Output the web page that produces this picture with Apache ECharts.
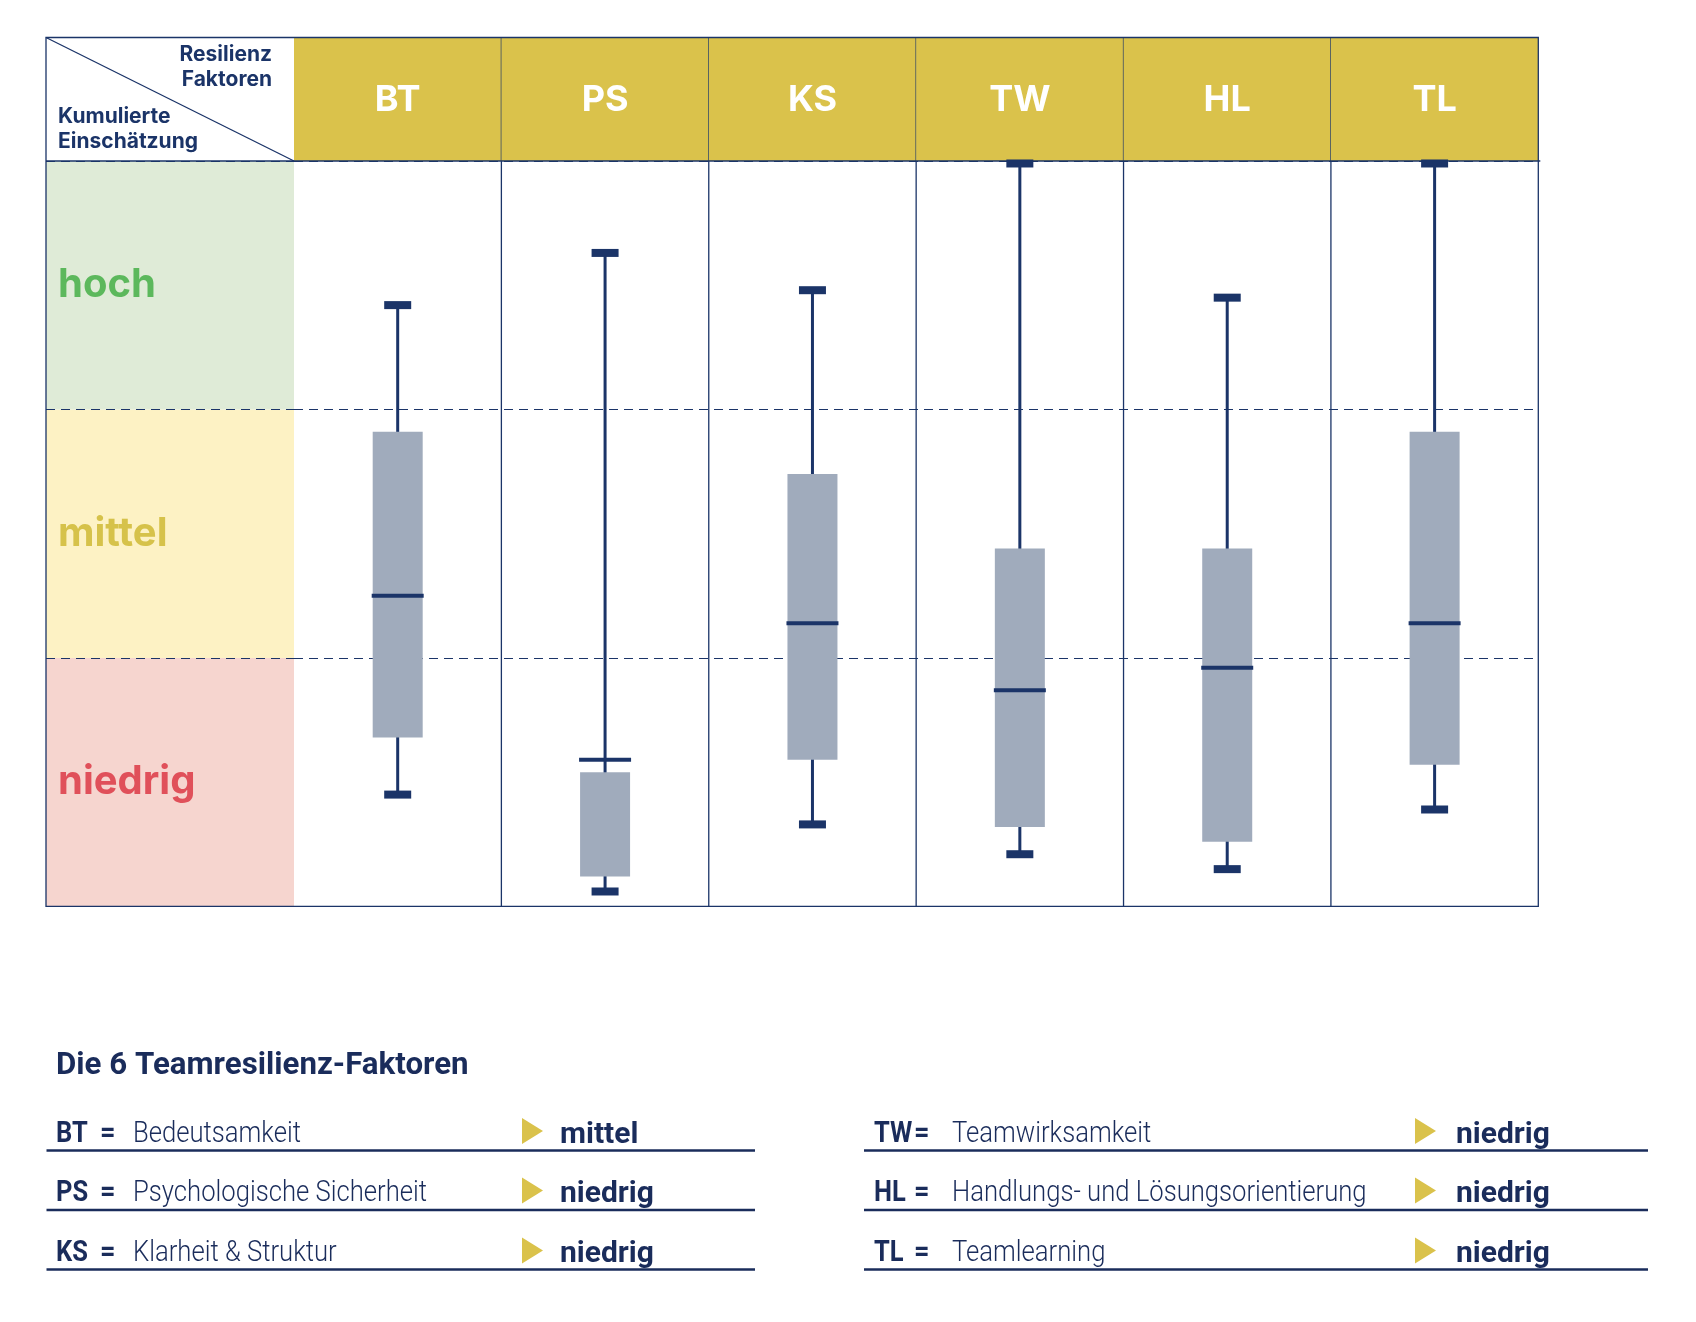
<!DOCTYPE html>
<html><head><meta charset="utf-8">
<script src="https://cdn.jsdelivr.net/npm/echarts@6/dist/echarts.min.js"></script>
<style>html,body{margin:0;padding:0;background:#fff}#c{width:1696px;height:1322px}</style>
</head><body><div id="c"></div>
<script>
// ---- data ----
const factors = ['BT', 'PS', 'KS', 'TW', 'HL', 'TL'];
const whiskerMin = [0.45, 0.06, 0.33, 0.21, 0.15, 0.39];
const q1 = [0.68, 0.12, 0.59, 0.32, 0.26, 0.57];
const median = [1.25, 0.59, 1.14, 0.87, 0.96, 1.14];
const q3 = [1.91, 0.54, 1.74, 1.44, 1.44, 1.91];
const whiskerMax = [2.42, 2.63, 2.48, 2.99, 2.45, 2.99];
const levels = ['niedrig', 'mittel', 'hoch'];
const levelTextColors = ['#e0505a', '#d6c24a', '#5cb85c'];
const levelFills = ['#f6d5cf', '#fdf2c4', '#dfebd7'];
const legendNames = ['Bedeutsamkeit', 'Psychologische Sicherheit', 'Klarheit & Struktur',
  'Teamwirksamkeit', 'Handlungs- und Lösungsorientierung', 'Teamlearning'];
const legendRatings = ['mittel', 'niedrig', 'niedrig', 'niedrig', 'niedrig', 'niedrig'];
const cornerTop = ['Resilienz', 'Faktoren'];
const cornerBottom = ['Kumulierte', 'Einschätzung'];
const legendTitle = 'Die 6 Teamresilienz-Faktoren';

// ---- style ----
const NAVY = '#1b3468';
const TXT = '#1a2c5b';
const YELLOW = '#dac24b';
const BOXC = '#a0abbc';
const T_L = 46, T_T = 37.5, T_R = 1538.3, T_B = 906.4, H_B = 161, COL0 = 294;

const chart = echarts.init(document.getElementById('c'), null, {renderer: 'canvas'});

function renderHeader(params, api) {
  const i = api.value(0);
  const p0 = api.coord([i, 0]);
  const p1 = api.coord([i, 1]);
  const w = api.size([1, 0])[0];
  const ch = [
    {type: 'rect', shape: {x: p0[0] - w / 2, y: p1[1], width: w, height: p0[1] - p1[1]}, style: {fill: YELLOW}},
    {type: 'text', style: {text: factors[i], x: p0[0], y: (p0[1] + p1[1]) / 2 + 1, fill: '#fff',
      font: 'bold 36px Inter, "DejaVu Sans", sans-serif', textAlign: 'center', textVerticalAlign: 'middle'}}
  ];
  if (i < factors.length - 1) {
    ch.push({type: 'line', shape: {x1: p0[0] + w / 2, y1: p1[1], x2: p0[0] + w / 2, y2: p0[1]}, style: {stroke: NAVY, lineWidth: 1.3}});
  }
  return {type: 'group', children: ch};
}

function renderBox(params, api) {
  const i = api.value(0);
  const pMin = api.coord([i, api.value(1)]);
  const pQ1 = api.coord([i, api.value(2)]);
  const pMed = api.coord([i, api.value(3)]);
  const pQ3 = api.coord([i, api.value(4)]);
  const pMax = api.coord([i, api.value(5)]);
  const top = api.coord([i, 3])[1], bot = api.coord([i, 0])[1];
  const x = pMin[0];
  const w = api.size([1, 0])[0];
  const boxW = 50, medW = 52, capW = 27, capH = 8;
  const ch = [];
  if (i < factors.length - 1) {
    ch.push({type: 'line', shape: {x1: x + w / 2, y1: top, x2: x + w / 2, y2: bot}, style: {stroke: NAVY, lineWidth: 1.3}});
  }
  ch.push(
    {type: 'line', shape: {x1: x, y1: pMax[1], x2: x, y2: pMin[1]}, style: {stroke: NAVY, lineWidth: 3}},
    {type: 'rect', shape: {x: x - boxW / 2, y: Math.min(pQ1[1], pQ3[1]), width: boxW, height: Math.abs(pQ1[1] - pQ3[1])}, style: {fill: BOXC}},
    {type: 'rect', shape: {x: x - medW / 2, y: pMed[1] - 2, width: medW, height: 4}, style: {fill: NAVY}},
    {type: 'rect', shape: {x: x - capW / 2, y: pMax[1] - capH / 2, width: capW, height: capH}, style: {fill: NAVY}},
    {type: 'rect', shape: {x: x - capW / 2, y: pMin[1] - capH / 2, width: capW, height: capH}, style: {fill: NAVY}}
  );
  return {type: 'group', children: ch};
}

// ---- legend / decorations (graphic) ----
const graphics = [];
graphics.push({type: 'line', shape: {x1: T_L, y1: T_T, x2: COL0, y2: H_B}, style: {stroke: NAVY, lineWidth: 1.3}, z: 100});
cornerTop.forEach((t, k) => graphics.push({type: 'text', z: 100, style: {text: t, x: 272, y: 55 + k * 25,
  font: 'bold 21px Inter, "DejaVu Sans", sans-serif', fill: NAVY, textAlign: 'right', textVerticalAlign: 'middle'}}));
cornerBottom.forEach((t, k) => graphics.push({type: 'text', z: 100, style: {text: t, x: 58, y: 117 + k * 25,
  font: 'bold 21px Inter, "DejaVu Sans", sans-serif', fill: NAVY, textAlign: 'left', textVerticalAlign: 'middle'}}));
graphics.push({type: 'line', z: 100, shape: {x1: T_L, y1: H_B, x2: T_R + 2, y2: H_B}, style: {stroke: NAVY, lineWidth: 1.3}});
graphics.push({type: 'rect', z: 100, shape: {x: T_L, y: T_T, width: T_R - T_L, height: T_B - T_T}, style: {fill: null, stroke: NAVY, lineWidth: 1.3}});

graphics.push({type: 'text', z: 100, x: 56, y: 1066, scaleX: 0.977, style: {text: legendTitle, x: 0, y: 0,
  font: 'bold 32px Roboto, sans-serif', fill: TXT, textAlign: 'left', textVerticalAlign: 'middle'}});
const cols = [
  {x0: 46.5, x1: 755, abbr: 56, eq: 100, desc: 133, tri: 522, rate: 560},
  {x0: 864, x1: 1648, abbr: 874, eq: 914, desc: 952, tri: 1415, rate: 1456}
];
const rowY = [1134, 1193.5, 1253.5];
const lineY = [1150.5, 1210, 1269.5];
factors.forEach((f, k) => {
  const c = cols[Math.floor(k / 3)];
  const cy = rowY[k % 3];
  const ly = lineY[k % 3];
  const boldF = 'bold 30px Roboto, sans-serif';
  graphics.push({type: 'text', z: 100, x: c.abbr, y: cy, scaleX: 0.85, style: {text: f, x: 0, y: 0, font: boldF, fill: TXT, textVerticalAlign: 'middle'}});
  graphics.push({type: 'text', z: 100, x: c.eq, y: cy, scaleX: 0.9, style: {text: '=', x: 0, y: 0, font: boldF, fill: TXT, textVerticalAlign: 'middle'}});
  graphics.push({type: 'text', z: 100, x: c.desc, y: cy, scaleX: 0.855, style: {text: legendNames[k], x: 0, y: 0,
    font: '300 30px Roboto, sans-serif', fill: TXT, textVerticalAlign: 'middle'}});
  graphics.push({type: 'polygon', z: 100, shape: {points: [[c.tri, cy - 16], [c.tri + 21, cy - 3], [c.tri, cy + 10]]}, style: {fill: YELLOW}});
  graphics.push({type: 'text', z: 100, x: c.rate, y: cy + 1, style: {text: legendRatings[k], x: 0, y: 0, font: 'bold 30px Roboto, sans-serif',
    fill: TXT, textVerticalAlign: 'middle'}});
  graphics.push({type: 'line', z: 100, shape: {x1: c.x0, y1: ly, x2: c.x1, y2: ly}, style: {stroke: TXT, lineWidth: 2.5}});
});

const dashed = {show: true, lineStyle: {color: NAVY, width: 1, type: [9, 6]}};

chart.setOption({
  animation: false,
  backgroundColor: '#fff',
  grid: [
    {left: COL0, top: T_T, width: T_R - COL0, height: H_B - T_T},
    {left: COL0, top: H_B, width: T_R - COL0, height: T_B - H_B},
    {left: T_L, top: H_B, width: COL0 - T_L, height: T_B - H_B}
  ],
  xAxis: [
    {gridIndex: 0, type: 'category', data: factors, show: false},
    {gridIndex: 1, type: 'category', data: factors, axisLine: {show: false}, axisTick: {show: false}, axisLabel: {show: false}, splitLine: {show: false}},
    {gridIndex: 2, type: 'value', min: 0, max: 1, show: false}
  ],
  yAxis: [
    {gridIndex: 0, type: 'value', min: 0, max: 1, show: false},
    {gridIndex: 1, type: 'value', min: 0, max: 3, interval: 1, axisLine: {show: false}, axisTick: {show: false},
      axisLabel: {show: false}, splitLine: dashed},
    {gridIndex: 2, type: 'category', data: levels, axisLine: {show: false}, axisTick: {show: false},
      axisLabel: {inside: true, margin: 12, fontFamily: 'Inter, "DejaVu Sans", sans-serif', fontWeight: 'bold', fontSize: 40,
        color: (v, idx) => levelTextColors[idx]},
      splitLine: dashed,
      splitArea: {show: true, areaStyle: {color: levelFills}}}
  ],
  series: [
    {type: 'custom', xAxisIndex: 0, yAxisIndex: 0, z: 2, renderItem: renderHeader,
      data: factors.map((f, i) => [i, 1]), encode: {x: 0, y: 1}},
    {type: 'custom', xAxisIndex: 1, yAxisIndex: 1, z: 5, renderItem: renderBox,
      data: factors.map((f, i) => [i, whiskerMin[i], q1[i], median[i], q3[i], whiskerMax[i]]),
      encode: {x: 0, y: [1, 2, 3, 4, 5]}}
  ],
  graphic: {elements: graphics}
});
</script></body></html>
